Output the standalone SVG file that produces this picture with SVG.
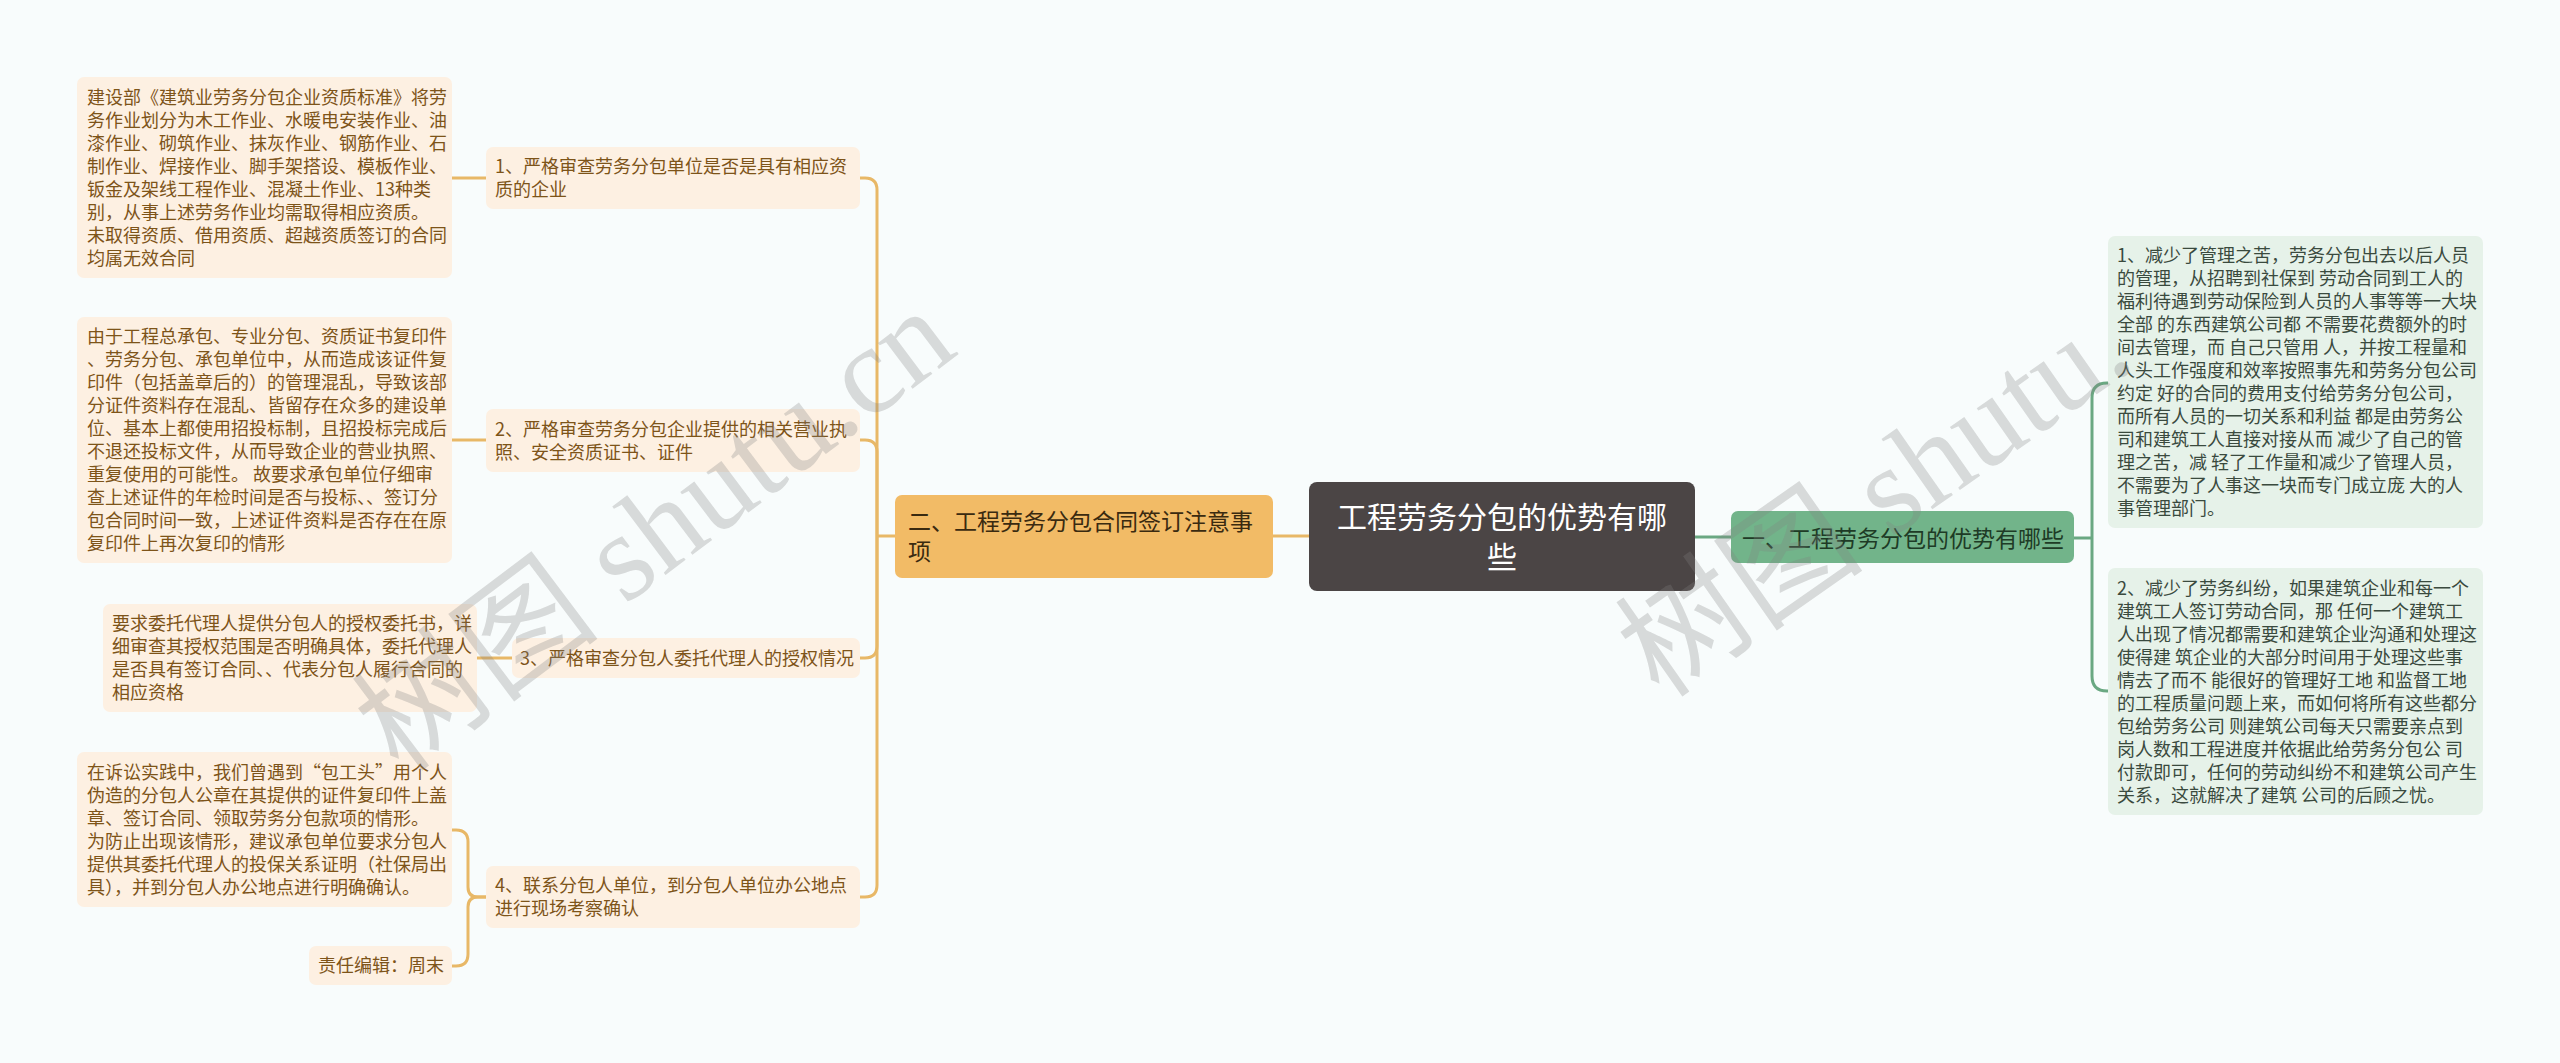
<svg xmlns="http://www.w3.org/2000/svg" width="2560" height="1063" viewBox="0 0 2560 1063">
<style>
.leafL{fill:#fdf0e2}
.leafR{fill:#e6f2e9}
.tL{font-family:"Noto Sans CJK SC","Noto Sans",sans-serif;font-size:18px;fill:#7d5419}
.tR{font-family:"Noto Sans CJK SC","Noto Sans",sans-serif;font-size:18px;fill:#3a4a3e}
.cO{fill:none;stroke:#e8b867;stroke-width:3}
.cG{fill:none;stroke:#6aa882;stroke-width:3}
.wm{font-family:"Liberation Serif","Noto Sans CJK SC",serif;font-size:125px;fill:#808080;fill-opacity:0.28}
</style>
<rect width="2560" height="1063" fill="#f8fcfc"/>
<g id="connectors">
<path class="cO" d="M1309,536 H1273"/>
<path class="cO" d="M895,536 H877"/>
<path class="cO" d="M877,536 V190 Q877,178 865,178 H860"/>
<path class="cO" d="M877,536 V452 Q877,440 865,440 H860"/>
<path class="cO" d="M877,536 V646 Q877,658 865,658 H860"/>
<path class="cO" d="M877,536 V885 Q877,897 865,897 H860"/>
<path class="cO" d="M452,178 H486"/>
<path class="cO" d="M452,440 H486"/>
<path class="cO" d="M477,658 H512"/>
<path class="cO" d="M486,897 H478 Q468,897 468,887 V842 Q468,830 456,830 H452"/>
<path class="cO" d="M486,897 H478 Q468,897 468,907 V954 Q468,966 456,966 H452"/>
<path class="cG" d="M1695,537 H1731"/>
<path class="cG" d="M2074,538 H2092"/>
<path class="cG" d="M2092,538 V398 Q2092,383 2107,383 H2108"/>
<path class="cG" d="M2092,538 V676 Q2092,691 2107,691 H2108"/>
</g>
<g id="center">
<rect x="1309" y="482" width="386" height="109" rx="8" fill="#4b4545"/>
<text font-family="'Noto Sans CJK SC',sans-serif" font-size="30" fill="#ffffff" text-anchor="middle"><tspan x="1502" y="528">工程劳务分包的优势有哪</tspan><tspan x="1502" y="568">些</tspan></text>
</g>
<g id="branch2">
<rect x="895" y="495" width="378" height="83" rx="7" fill="#f2bb66"/>
<text font-family="'Noto Sans CJK SC',sans-serif" font-size="23" fill="#3a2a10"><tspan x="908" y="530">二、工程劳务分包合同签订注意事</tspan><tspan x="908" y="560">项</tspan></text>
</g>
<g id="branch1">
<rect x="1731" y="511" width="343" height="52" rx="7" fill="#72b48a"/>
<text x="1742" y="547" font-family="'Noto Sans CJK SC',sans-serif" font-size="23" fill="#1e3b26">一、工程劳务分包的优势有哪些</text>
</g>
<g id="n1">
<rect class="leafL" x="486" y="147" width="374" height="62" rx="7"/>
<text class="tL"><tspan x="495" y="173">1、严格审查劳务分包单位是否是具有相应资</tspan><tspan x="495" y="196">质的企业</tspan></text>
</g>
<g id="n2">
<rect class="leafL" x="486" y="409" width="374" height="63" rx="7"/>
<text class="tL"><tspan x="495" y="435.5">2、严格审查劳务分包企业提供的相关营业执</tspan><tspan x="495" y="458.5">照、安全资质证书、证件</tspan></text>
</g>
<g id="n3">
<rect class="leafL" x="512" y="638" width="348" height="40" rx="7"/>
<text class="tL" x="520" y="664.5">3、严格审查分包人委托代理人的授权情况</text>
</g>
<g id="n4">
<rect class="leafL" x="486" y="866" width="374" height="62" rx="7"/>
<text class="tL"><tspan x="495" y="892">4、联系分包人单位，到分包人单位办公地点</tspan><tspan x="495" y="915">进行现场考察确认</tspan></text>
</g>
<g id="l1">
<rect class="leafL" x="77" y="77" width="375" height="201" rx="7"/>
<text class="tL"><tspan x="87" y="104">建设部《建筑业劳务分包企业资质标准》将劳</tspan><tspan x="87" y="127">务作业划分为木工作业、水暖电安装作业、油</tspan><tspan x="87" y="150">漆作业、砌筑作业、抹灰作业、钢筋作业、石</tspan><tspan x="87" y="173">制作业、焊接作业、脚手架搭设、模板作业、</tspan><tspan x="87" y="196">钣金及架线工程作业、混凝土作业、13种类</tspan><tspan x="87" y="219">别，从事上述劳务作业均需取得相应资质。</tspan><tspan x="87" y="242">未取得资质、借用资质、超越资质签订的合同</tspan><tspan x="87" y="265">均属无效合同</tspan></text>
</g>
<g id="l2">
<rect class="leafL" x="77" y="317" width="375" height="246" rx="7"/>
<text class="tL"><tspan x="87" y="343">由于工程总承包、专业分包、资质证书复印件</tspan><tspan x="87" y="366">、劳务分包、承包单位中，从而造成该证件复</tspan><tspan x="87" y="389">印件（包括盖章后的）的管理混乱，导致该部</tspan><tspan x="87" y="412">分证件资料存在混乱、皆留存在众多的建设单</tspan><tspan x="87" y="435">位、基本上都使用招投标制，且招投标完成后</tspan><tspan x="87" y="458">不退还投标文件，从而导致企业的营业执照、</tspan><tspan x="87" y="481">重复使用的可能性。 故要求承包单位仔细审</tspan><tspan x="87" y="504">查上述证件的年检时间是否与投标、、签订分</tspan><tspan x="87" y="527">包合同时间一致，上述证件资料是否存在在原</tspan><tspan x="87" y="550">复印件上再次复印的情形</tspan></text>
</g>
<g id="l3">
<rect class="leafL" x="103" y="604" width="374" height="108" rx="7"/>
<text class="tL"><tspan x="112" y="630">要求委托代理人提供分包人的授权委托书，详</tspan><tspan x="112" y="653">细审查其授权范围是否明确具体，委托代理人</tspan><tspan x="112" y="676">是否具有签订合同、、代表分包人履行合同的</tspan><tspan x="112" y="699">相应资格</tspan></text>
</g>
<g id="l4a">
<rect class="leafL" x="77" y="752" width="375" height="155" rx="7"/>
<text class="tL"><tspan x="87" y="779">在诉讼实践中，我们曾遇到“包工头”用个人</tspan><tspan x="87" y="802">伪造的分包人公章在其提供的证件复印件上盖</tspan><tspan x="87" y="825">章、签订合同、领取劳务分包款项的情形。</tspan><tspan x="87" y="848">为防止出现该情形，建议承包单位要求分包人</tspan><tspan x="87" y="871">提供其委托代理人的投保关系证明（社保局出</tspan><tspan x="87" y="894">具），并到分包人办公地点进行明确确认。</tspan></text>
</g>
<g id="l4b">
<rect class="leafL" x="309" y="946" width="143" height="39" rx="7"/>
<text class="tL" x="318" y="972">责任编辑：周末</text>
</g>
<g id="r1">
<rect class="leafR" x="2108" y="236" width="375" height="292" rx="7"/>
<text class="tR"><tspan x="2117" y="262">1、减少了管理之苦，劳务分包出去以后人员</tspan><tspan x="2117" y="285">的管理，从招聘到社保到 劳动合同到工人的</tspan><tspan x="2117" y="308">福利待遇到劳动保险到人员的人事等等一大块</tspan><tspan x="2117" y="331">全部 的东西建筑公司都 不需要花费额外的时</tspan><tspan x="2117" y="354">间去管理，而 自己只管用 人，并按工程量和</tspan><tspan x="2117" y="377">人头工作强度和效率按照事先和劳务分包公司</tspan><tspan x="2117" y="400">约定 好的合同的费用支付给劳务分包公司，</tspan><tspan x="2117" y="423">而所有人员的一切关系和利益 都是由劳务公</tspan><tspan x="2117" y="446">司和建筑工人直接对接从而 减少了自己的管</tspan><tspan x="2117" y="469">理之苦，减 轻了工作量和减少了管理人员，</tspan><tspan x="2117" y="492">不需要为了人事这一块而专门成立庞 大的人</tspan><tspan x="2117" y="515">事管理部门。</tspan></text>
</g>
<g id="r2">
<rect class="leafR" x="2108" y="568" width="375" height="247" rx="7"/>
<text class="tR"><tspan x="2117" y="594.5">2、减少了劳务纠纷，如果建筑企业和每一个</tspan><tspan x="2117" y="617.5">建筑工人签订劳动合同，那 任何一个建筑工</tspan><tspan x="2117" y="640.5">人出现了情况都需要和建筑企业沟通和处理这</tspan><tspan x="2117" y="663.5">使得建 筑企业的大部分时间用于处理这些事</tspan><tspan x="2117" y="686.5">情去了而不 能很好的管理好工地 和监督工地</tspan><tspan x="2117" y="709.5">的工程质量问题上来，而如何将所有这些都分</tspan><tspan x="2117" y="732.5">包给劳务公司 则建筑公司每天只需要亲点到</tspan><tspan x="2117" y="755.5">岗人数和工程进度并依据此给劳务分包公 司</tspan><tspan x="2117" y="778.5">付款即可，任何的劳动纠纷不和建筑公司产生</tspan><tspan x="2117" y="801.5">关系，这就解决了建筑 公司的后顾之忧。</tspan></text>
</g>
<g id="watermark">
<text class="wm" transform="translate(400,775) rotate(-37)">树图 shutu.cn</text>
<text class="wm" transform="translate(1660,700) rotate(-35)">树图 shutu.</text>
</g>
</svg>
